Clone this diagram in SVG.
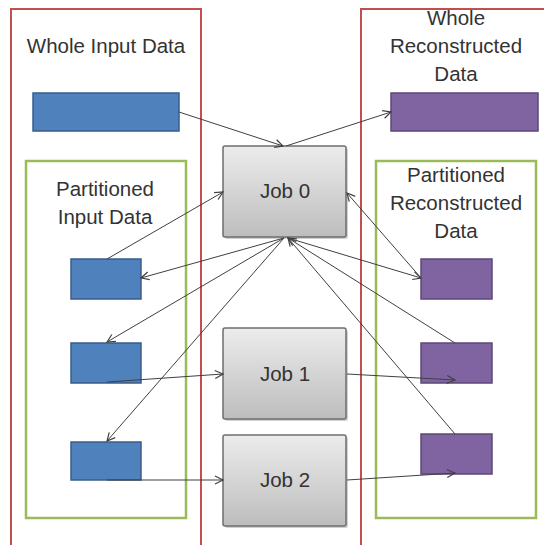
<svg xmlns="http://www.w3.org/2000/svg" width="544" height="545" viewBox="0 0 544 545">
<style>
.red{fill:none;stroke:#c0504d;stroke-width:2}
.green{fill:none;stroke:#9bbb59;stroke-width:2.5}
.blue{fill:#4f81bd;stroke:#385d8a;stroke-width:1.5}
.purple{fill:#8064a2;stroke:#5c4776;stroke-width:1.5}
.job{fill:url(#g);stroke:#6e6e6e;stroke-width:1.5}
.shadow{fill:#000;opacity:0.18}
.t{font-family:"Liberation Sans",Arial,sans-serif;font-size:20.5px;fill:#333;text-anchor:middle}
.c line{stroke:#404040;stroke-width:1;marker-end:url(#a)}
</style>
<defs>
<linearGradient id="g" x1="0" y1="0" x2="0" y2="1">
<stop offset="0" stop-color="#ececec"/>
<stop offset="1" stop-color="#bdbdbd"/>
</linearGradient>
<marker id="a" markerUnits="userSpaceOnUse" markerWidth="12" markerHeight="12" refX="9" refY="5" orient="auto">
<path d="M1,1 L9,5 L1,9" fill="none" stroke="#404040" stroke-width="1.2"/>
</marker>
</defs>
<rect width="544" height="545" fill="#fff"/>
<g id="whole-input-container">
<rect class="red" x="11" y="9" width="190" height="560"/>
<text class="t" x="106" y="53">Whole Input Data</text>
</g>
<g id="whole-reconstructed-container">
<rect class="red" x="361" y="9" width="200" height="560"/>
<text class="t" x="456" y="25">Whole</text>
<text class="t" x="456" y="53">Reconstructed</text>
<text class="t" x="456" y="81">Data</text>
</g>
<g id="partitioned-input-container">
<rect class="green" x="26" y="161" width="160" height="357"/>
<text class="t" x="105" y="196">Partitioned</text>
<text class="t" x="105" y="224">Input Data</text>
</g>
<g id="partitioned-reconstructed-container">
<rect class="green" x="376" y="161" width="160" height="357"/>
<text class="t" x="456" y="182">Partitioned</text>
<text class="t" x="456" y="210">Reconstructed</text>
<text class="t" x="456" y="238">Data</text>
</g>
<g id="whole-input"><rect class="blue" x="33" y="93" width="146" height="38"/></g>
<g id="whole-reconstructed"><rect class="purple" x="391" y="93" width="147" height="38"/></g>
<g id="input-part-0"><rect class="blue" x="71" y="259" width="70" height="40"/></g>
<g id="input-part-1"><rect class="blue" x="71" y="343" width="70" height="40"/></g>
<g id="input-part-2"><rect class="blue" x="71" y="442" width="70" height="38"/></g>
<g id="recon-part-0"><rect class="purple" x="421" y="259" width="71" height="40"/></g>
<g id="recon-part-1"><rect class="purple" x="421" y="343" width="71" height="40"/></g>
<g id="recon-part-2"><rect class="purple" x="421" y="434" width="71" height="40"/></g>
<g id="job0">
<rect class="shadow" x="225" y="148" width="123" height="91" rx="2"/>
<rect class="job" x="223" y="146" width="123" height="91" rx="2"/>
<text class="t" x="285" y="198">Job 0</text>
</g>
<g id="job1">
<rect class="shadow" x="225" y="330" width="123" height="91" rx="2"/>
<rect class="job" x="223" y="328" width="123" height="91" rx="2"/>
<text class="t" x="285" y="381">Job 1</text>
</g>
<g id="job2">
<rect class="shadow" x="225" y="437" width="123" height="91" rx="2"/>
<rect class="job" x="223" y="435" width="123" height="91" rx="2"/>
<text class="t" x="285" y="487">Job 2</text>
</g>
<g id="connectors" class="c">
<line x1="179" y1="112" x2="283" y2="146"/>
<line x1="286" y1="146" x2="391" y2="112"/>
<line x1="107" y1="259" x2="223" y2="192"/>
<line x1="284" y1="238" x2="141" y2="278"/>
<line x1="284" y1="238" x2="107" y2="342"/>
<line x1="284" y1="238" x2="107" y2="441"/>
<line x1="107" y1="382" x2="223" y2="374"/>
<line x1="107" y1="480" x2="223" y2="480"/>
<line x1="421" y1="278" x2="347" y2="193"/>
<line x1="288" y1="238" x2="421" y2="278"/>
<line x1="455" y1="343" x2="288" y2="238"/>
<line x1="455" y1="434" x2="288" y2="238"/>
<line x1="347" y1="374" x2="455" y2="380"/>
<line x1="347" y1="480" x2="455" y2="473"/>
</g>
</svg>
